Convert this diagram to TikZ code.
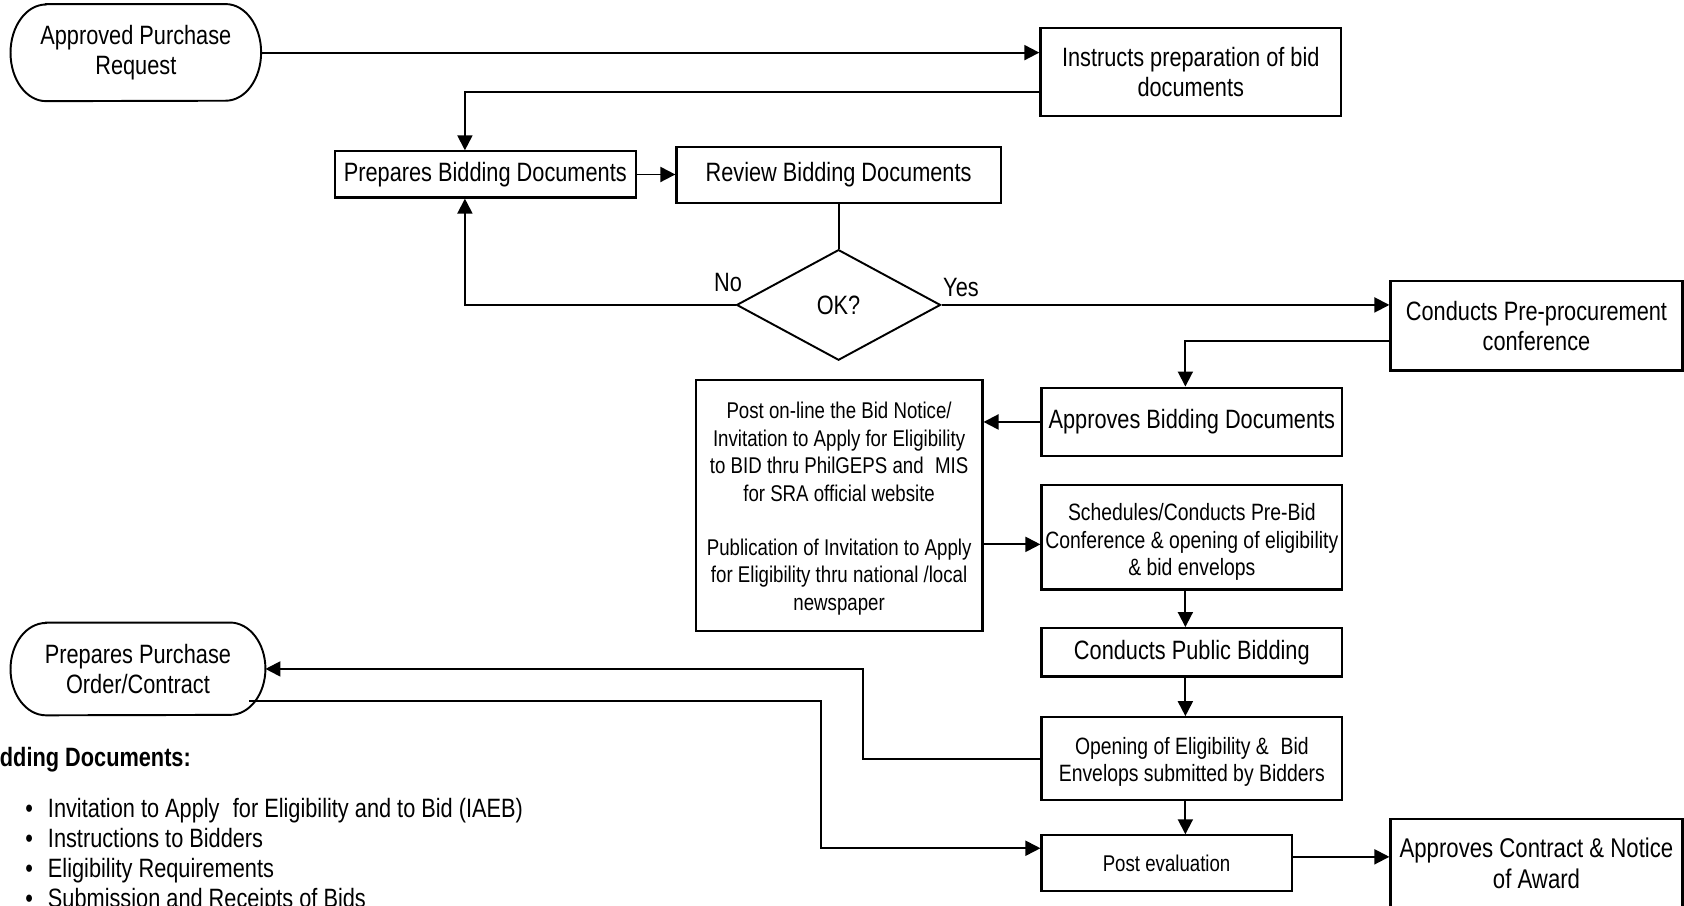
\documentclass[tikz,border=0pt]{standalone}
\usepackage{fontspec}
\setmainfont{Liberation Sans}[FakeStretch=0.82]
\usetikzlibrary{arrows.meta,shapes.geometric,calc}
\newcommand\bigf{\fontsize{24.7}{27.5}\selectfont}
\newcommand\awardf{\fontsize{25.2}{29}\selectfont}
\newcommand\midf{\fontsize{21.2}{25.8}\selectfont}
\newcommand\schedf{\fontsize{22}{25.5}\selectfont}
\newcommand\listf{\fontsize{24.7}{28}\selectfont}
\newcommand\lowerby[2]{\raisebox{0pt}[\height][\dimexpr\depth-#1\relax]{#2}}
\tikzset{
  box/.style={draw, line width=2pt, inner sep=2pt, align=center, font=\bigf},
  dia/.style={draw, shape=diamond, line width=1.8pt, minimum width=190pt, minimum height=103pt, inner sep=0pt, font=\bigf},
  term/.style={inner sep=0pt, align=center, font=\bigf},
  conn/.style={line width=1.8pt},
  arr/.style={line width=1.8pt, -{Triangle[length=14pt,width=14pt]}},
  lab/.style={inner sep=0pt, font=\bigf},
}
\begin{document}
\begin{tikzpicture}[x=1pt,y=-1pt]
\useasboundingbox (0,0) rectangle (1568.4,843.8);
\clip (0,0) rectangle (1568.4,843.8);
\fill[white] (0,0) rectangle (1568.4,843.8);

% terminals
\node[term, minimum width=233pt, minimum height=90pt] (appr) at (126.5,49) {Approved Purchase\\Request};
\draw[line width=1.8pt] ($(appr.north west)+(33,0)$) -- ($(appr.north east)+(-33,0)$)
  arc[start angle=90, end angle=-90, x radius=33pt, y radius=45pt]
  -- ($(appr.south west)+(33,0)$)
  arc[start angle=270, end angle=90, x radius=33pt, y radius=45pt] -- cycle;

\node[term, minimum width=237pt, minimum height=86pt] (purch) at (128.5,623) {Prepares Purchase\\Order/Contract};
\draw[line width=1.8pt] ($(purch.north west)+(33,0)$) -- ($(purch.north east)+(-33,0)$)
  arc[start angle=90, end angle=-90, x radius=33pt, y radius=43pt]
  -- ($(purch.south west)+(33,0)$)
  arc[start angle=270, end angle=90, x radius=33pt, y radius=43pt] -- cycle;

% process boxes
\node[box, minimum width=280pt, minimum height=82pt] (instr) at (1109,67) {Instructs preparation of bid\\documents};
\node[box, minimum width=280pt, minimum height=43pt] (prep) at (452,162.5) {Prepares Bidding Documents};
\node[box, minimum width=302pt, minimum height=52pt] (review) at (781,163) {Review Bidding Documents};
\node[dia] (ok) at (781,284) {OK?};
\node[box, minimum width=272pt, minimum height=83pt] (preproc) at (1431,303.5) {Conducts Pre-procurement\\conference};
\node[box, minimum width=280pt, minimum height=64pt] (appbid) at (1110,393) {Approves Bidding Documents};
\node[box, font=\midf, minimum width=267pt, minimum height=234pt] (post) at (781.5,471) {\lowerby{6pt}{\begin{tabular}{@{}c@{}}Post on-line the Bid Notice/\\Invitation to Apply for Eligibility\\to BID thru PhilGEPS and\enspace MIS\\for SRA official website\\[24pt]Publication of Invitation to Apply\\for Eligibility thru national /local\\newspaper\end{tabular}}};
\node[box, font=\schedf, minimum width=280pt, minimum height=97pt] (sched) at (1110,500.5) {\lowerby{10pt}{\begin{tabular}{@{}c@{}}Schedules/Conducts Pre-Bid\\Conference \& opening of eligibility\\\& bid envelops\end{tabular}}};
\node[box, minimum width=280pt, minimum height=45pt] (public) at (1110,607.5) {Conducts Public Bidding};
\node[box, font=\schedf, minimum width=280pt, minimum height=77pt] (opening) at (1110,706.5) {\lowerby{7pt}{\begin{tabular}{@{}c@{}}Opening of Eligibility \&\enspace Bid\\Envelops submitted by Bidders\end{tabular}}};
\node[box, font=\midf, minimum width=233pt, minimum height=52pt] (posteval) at (1086.5,804) {Post evaluation};
\node[box, anchor=north, minimum width=272pt, inner sep=0pt] (award) at (1431,762)
  {\parbox[t][150pt][t]{264pt}{\centering\awardf\vspace*{17pt}Approves Contract \& Notice\\of Award}};

% labels
\node[lab] (nolab) at (678,263) {No};
\node[lab] (yeslab) at (895,268) {Yes};

% legend text
\node[font=\bigf\bfseries, anchor=west, inner sep=0pt] (bdhead) at (-20.5,708) {Bidding Documents:};
\node[font=\listf, anchor=north west, inner sep=0pt, align=left] (bdlist) at (23.5,741.8) {%
  \begin{tabular}{@{}l@{\hspace{13.9pt}}l@{}}
  • & Invitation to Apply\enspace for Eligibility and to Bid (IAEB)\\
  • & Instructions to Bidders\\
  • & Eligibility Requirements\\
  • & Submission and Receipts of Bids
  \end{tabular}};

% helper coordinates
\coordinate (c1) at ($(instr.west)+(0,19)$);
\coordinate (c2) at ($(preproc.west)+(0,14.5)$);
\coordinate (c3) at ($(post.east)+(0,36)$);
\coordinate (s1) at ($(sched.south)+(-6,0)$);
\coordinate (s2) at ($(public.south)+(-6,0)$);
\coordinate (s3) at ($(opening.south)+(-6,0)$);
\coordinate (pstart) at ($(purch.east)+(-15,30)$);
\coordinate (pe) at ($(posteval.west)+(0,-14)$);
\coordinate (pa) at ($(posteval.east)+(0,-6)$);

% connectors
\draw[arr] (appr.east) -- (appr.east -| instr.west);
\draw[arr] (c1) -| ($(prep.north)+(-19,0)$);
\draw[arr] (prep.east) -- (prep.east -| review.west);
\draw[conn] (review.south) -- (ok.north);
\draw[arr] (ok.west) -| ($(prep.south)+(-19,0)$);
\draw[arr] (ok.east) -- (ok.east -| preproc.west);
\draw[arr] (c2) -| ($(appbid.north)+(-6,0)$);
\draw[arr] (appbid.west) -- (appbid.west -| post.east);
\draw[arr] (c3) -- (c3 -| sched.west);
\draw[arr] (s1) -- (s1 |- public.north);
\draw[arr] (s2) -- (s2 |- opening.north);
\draw[arr] (s3) -- (s3 |- posteval.north);
\draw[arr] (opening.west) -- ++(-165,0) |- (purch.east);
\draw[arr] (pstart) -- ++(532,0) |- (pe);
\draw[arr] (pa) -- (pa -| award.west);
\end{tikzpicture}
\end{document}
